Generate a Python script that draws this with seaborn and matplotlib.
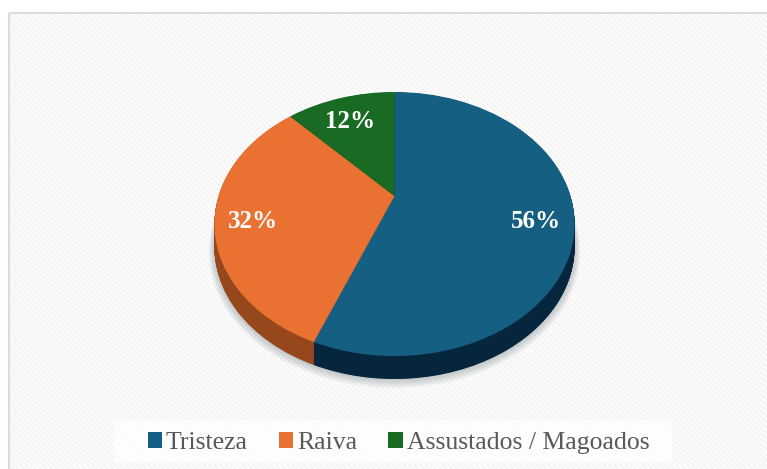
import matplotlib
matplotlib.use("Agg")
import matplotlib.pyplot as plt
import numpy as np
import seaborn as sns
from matplotlib.patches import Patch, Rectangle
from matplotlib.transforms import Transform

labels = ["Tristeza", "Raiva", "Assustados / Magoados"]
values = [56, 32, 12]
colors = ["#156082", "#E97132", "#196B24"]
side_colors = ["#06263D", "#96481C", "#0D3A13"]

sns.set_theme(style="white")
plt.rcParams["font.family"] = ["Liberation Serif", "DejaVu Serif"]
plt.rcParams["hatch.linewidth"] = 1.2


class Tilt(Transform):
    """Perspective view of the unit disc, in pixel coordinates of the figure."""
    input_dims = 2
    output_dims = 2
    is_separable = False

    def __init__(self, dy=0.0):
        super().__init__()
        self.dy = dy

    def transform_non_affine(self, v):
        v = np.asarray(v, dtype=float)
        w = 1 + 0.2121 * v[:, 1]
        return np.column_stack((394.5 + 176 * v[:, 0] / w,
                                (196 - 84.5 * v[:, 1]) / w + self.dy))


fig = plt.figure(figsize=(7.67, 4.69), dpi=100, facecolor="white")
ax = fig.add_axes([0, 0, 1, 1])

ax.add_patch(Rectangle((8.5, 13.5), 770, 470, facecolor="#FCFCFC",
                       edgecolor="#F4F4F4", lw=0, hatch="\\\\\\\\\\\\", zorder=0))
ax.add_patch(Rectangle((8.5, 13.5), 770, 470, facecolor="none",
                       edgecolor="#DCDCDC", lw=1.5, zorder=0.5))

pie_kw = dict(startangle=90, counterclock=False, frame=False)

# soft shadow under the disc
for r, dy in zip(np.linspace(1.03, 1.0, 8), np.linspace(26, 23, 8)):
    ax.pie(values, colors=["#5A6A70"] * 3, radius=r,
           wedgeprops=dict(transform=Tilt(dy) + ax.transData, alpha=0.05,
                           lw=0, edgecolor="none", zorder=1), **pie_kw)

# rim of the disc
for dy in np.arange(23, 0, -0.5):
    ax.pie(values, colors=side_colors,
           wedgeprops=dict(transform=Tilt(dy) + ax.transData, lw=0,
                           edgecolor="none", zorder=2), **pie_kw)

# top face
top = Tilt() + ax.transData
label_tf = Tilt(6) + ax.transData
wedges, _, pcts = ax.pie(values, colors=colors, autopct="%d%%", pctdistance=0.79,
                         wedgeprops=dict(transform=top, lw=0, edgecolor="none", zorder=3),
                         textprops=dict(color="white", fontweight="bold", fontsize=18,
                                        zorder=4), **pie_kw)
for t in pcts:
    t.set_transform(label_tf)

ax.set_aspect("auto")
ax.set_xlim(0, 767)
ax.set_ylim(469, 0)
ax.axis("off")

ax.add_patch(Rectangle((115, 420), 557, 42, facecolor="white", edgecolor="none",
                       alpha=0.75, zorder=4.5))
handles = [Patch(facecolor=c, edgecolor="none", label=l) for c, l in zip(colors, labels)]
leg = ax.legend(handles=handles, ncols=3, loc="center",
                bbox_to_anchor=(398.5 / 767, 1 - 443 / 469), fontsize=18.5,
                labelcolor="#595959", frameon=False, handlelength=0.56, handleheight=0.56,
                handletextpad=0.16, columnspacing=1.2, borderpad=0, borderaxespad=0)
leg.set_zorder(5)

fig.savefig("out.png", dpi=100, facecolor="white")
